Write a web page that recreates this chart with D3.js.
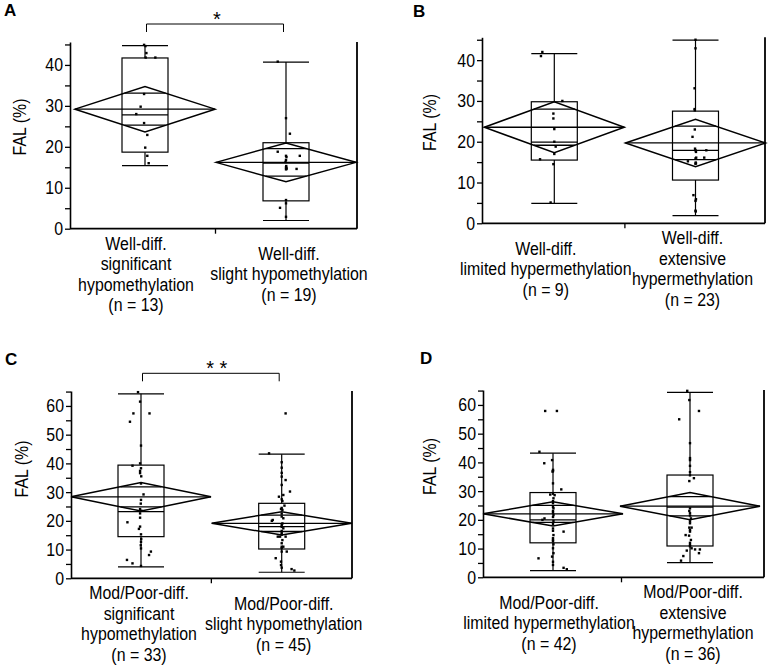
<!DOCTYPE html>
<html><head><meta charset="utf-8">
<script src="https://cdn.jsdelivr.net/npm/d3@7"></script>
<style>
body{margin:0;background:#fff}
svg{display:block}
text{font-family:"Liberation Sans",Arial,Helvetica,sans-serif;fill:#000}
</style>
</head><body>
<svg id="chart" width="771" height="667"></svg>
<script>
// ---------------- DATA ----------------
const panelIds = ["A", "B", "C", "D"];

const categoriesA = [["Well-diff.", "significant", "hypomethylation", "(n = 13)"], ["Well-diff.", "slight hypomethylation", "(n = 19)"]];
const categoriesB = [["Well-diff.", "limited hypermethylation", "(n = 9)"], ["Well-diff.", "extensive", "hypermethylation", "(n = 23)"]];
const categoriesC = [["Mod/Poor-diff.", "significant", "hypomethylation", "(n = 33)"], ["Mod/Poor-diff.", "slight hypomethylation", "(n = 45)"]];
const categoriesD = [["Mod/Poor-diff.", "limited hypermethylation", "(n = 42)"], ["Mod/Poor-diff.", "extensive", "hypermethylation", "(n = 36)"]];

const yLabel = "FAL (%)";
const yTicksAB = [0, 10, 20, 30, 40];
const yTicksCD = [0, 10, 20, 30, 40, 50, 60];
const yMaxAB = 45.6;
const yMaxCD = 65.2;

// box stats: [whisker low, Q1, median, Q3, whisker high]
const boxA = [[15.4, 18.7, 27.8, 41.7, 44.7], [2.0, 6.8, 16.0, 21.0, 40.7]];
const boxB = [[4.9, 15.5, 19.9, 29.8, 41.6], [1.9, 10.6, 17.9, 27.5, 44.9]];
const boxC = [[4.0, 14.5, 23.2, 39.4, 64.2], [2.1, 10.2, 18.0, 26.1, 43.2]];
const boxD = [[2.3, 12.0, 20.0, 29.5, 43.2], [5.1, 10.9, 24.4, 35.6, 64.4]];

// means and 95% CI half-widths (means diamonds)
const meanA = [29.2, 16.2], ciA = [5.55, 4.75];
const meanB = [23.55, 19.7], ciB = [6.25, 5.8];
const meanC = [28.35, 19.15], ciC = [4.95, 4.05];
const meanD = [22.1, 24.75], ciD = [4.2, 4.75];

// individual FAL values
const pointsA = [
  [44.9, 44.6, 42.9, 41.8, 41.8, 32.9, 29.8, 28.0, 25.8, 22.9, 19.8, 17.8, 16.0],
  [40.8, 27.0, 23.2, 18.8, 17.8, 17.8, 17.5, 16.8, 16.3, 15.3, 15.0, 14.8, 14.6, 14.5, 14.6, 7.0, 6.2, 5.1, 2.9]
];
const pointsB = [
  [42.0, 41.0, 30.0, 26.9, 25.7, 23.1, 20.0, 18.8, 17.0, 15.7, 14.5, 5.1],
  [45.0, 42.9, 33.1, 28.0, 27.7, 23.0, 21.2, 17.9, 17.9, 17.5, 16.1, 16.1, 15.9, 15.2, 14.7, 14.6, 14.9, 18.3, 6.9, 5.9, 5.5, 3.1, 2.9]
];
const pointsC = [
  [64.8, 61.5, 57.4, 57.4, 54.5, 46.2, 40.0, 39.2, 38.3, 37.4, 36.6, 35.5, 33.0, 29.2, 27.3, 26.0, 24.1, 23.5, 22.6, 21.1, 19.5, 18.0, 17.2, 15.3, 13.7, 12.7, 11.5, 10.4, 9.3, 8.1, 6.4, 5.2, 4.3],
  [57.4, 43.5, 40.4, 38.5, 36.7, 35.4, 34.2, 32.5, 30.2, 29.0, 28.4, 27.5, 26.9, 25.3, 24.5, 24.1, 23.8, 22.5, 21.5, 20.9, 20.3, 20.0, 19.1, 18.5, 17.9, 17.4, 16.5, 15.8, 15.2, 14.5, 14.5, 14.5, 13.3, 12.2, 11.0, 11.0, 10.5, 9.3, 9.3, 7.0, 5.8, 4.6, 3.7, 3.2, 2.7]
];
const pointsD = [
  [57.9, 57.9, 43.7, 40.8, 39.7, 37.4, 37.0, 36.8, 32.7, 30.6, 29.1, 28.8, 28.6, 27.5, 26.5, 25.8, 24.5, 24.0, 23.1, 22.5, 21.7, 21.0, 20.5, 20.0, 19.6, 18.5, 17.0, 16.2, 15.9, 14.7, 13.6, 13.0, 12.5, 11.5, 10.1, 8.4, 7.2, 6.6, 5.4, 4.3, 3.3, 2.8],
  [64.9, 61.7, 57.9, 55.0, 46.7, 41.5, 40.8, 38.8, 36.6, 35.5, 34.5, 33.5, 24.0, 23.1, 22.3, 21.5, 20.5, 19.5, 18.8, 17.3, 17.3, 16.5, 15.9, 14.7, 14.5, 13.0, 12.0, 11.2, 10.8, 10.1, 9.7, 9.7, 9.3, 8.4, 7.4, 5.8]
];
// horizontal jitter of each dot (fraction of box half-width)
const jitterA = [
  [-0.04, 0.02, 0.06, 0.03, 0.45, -0.04, -0.19, -0.38, -0.04, 0.1, 0.01, 0.1, 0.16],
  [-0.36, 0, 0.17, -0.36, 0, 0.6, 0.02, 0, -0.02, 0.01, 0, 0.02, 0.02, 0, 0.46, 0, 0, -0.26, 0]
];
const jitterB = [
  [-0.52, -0.58, 0.35, -0.04, -0.04, 0, 0, 0.06, 0, -0.62, -0.04, -0.16],
  [0, 0, -0.04, -0.04, -0.03, -0.03, -0.13, 0, 0.47, 0.02, 0.03, 0.38, 0, -0.33, 0.02, 0, 0.01, -0.02, -0.09, 0.02, 0, 0, 0.01]
];
const jitterC = [
  [-0.13, -0.04, -0.33, 0.37, -0.48, 0, -0.04, -0.37, 0, -0.04, -0.04, 0.01, 0, 0.11, 0, -0.01, -0.04, 0.02, -0.04, -0.04, -0.59, -0.04, -0.09, 0, 0.01, 0, -0.01, 0, 0.43, 0.35, -0.61, -0.37, 0],
  [0.17, -0.55, 0, 0, 0, 0, 0.17, 0, 0.36, 0.07, -0.12, 0, 0.03, 0.12, 0, -0.03, 0.03, 0, 0, 0.07, -0.39, -0.43, 0.03, 0, 0, 0.07, 0, 0, 0, -0.17, -0.07, 0.17, 0.03, 0, 0.07, 0, 0, 0, 0.22, -0.26, -0.03, -0.03, 0, 0.43, 0.55]
];
const jitterD = [
  [-0.34, 0.17, -0.59, -0.04, -0.38, 0, 0, -0.02, 0, 0.36, 0, -0.12, 0.07, 0.02, 0, 0, 0, 0.02, 0, 0, 0.02, 0, -0.37, -0.46, 0.02, 0, 0, 0, 0.46, 0.02, 0, 0, 0, 0.02, 0, 0.02, -0.04, -0.63, 0, 0, 0.46, 0.6],
  [-0.12, -0.03, 0.39, -0.47, 0, 0, 0, 0, 0, 0, 0.17, -0.03, 0, -0.03, 0, 0, 0.04, 0, 0, 0.07, -0.03, 0, 0, -0.19, -0.04, 0.04, 0, 0, 0, 0.07, 0.22, 0.43, -0.14, 0.39, -0.29, -0.39]
];
const significanceA = "*";
const significanceC = "* *";

// ---------------- LAYOUT ----------------
const panels = [
  { id: panelIds[0], cats: categoriesA, box: boxA, mean: meanA, ci: ciA, pts: pointsA, jit: jitterA, ticks: yTicksAB, yMax: yMaxAB, sig: significanceA,
    x0: 70, x1: 357, yTop: 42, yBot: 228.7, centers: [145, 286], labelDx: [-9, 3], title: [4, 16], ylab: [20, 127], bracketY: 24, sigDx: 2 },
  { id: panelIds[1], cats: categoriesB, box: boxB, mean: meanB, ci: ciB, pts: pointsB, jit: jitterB, ticks: yTicksAB, yMax: yMaxAB, sig: null,
    x0: 482, x1: 765, yTop: 37.3, yBot: 223.3, centers: [554.3, 695.5], labelDx: [-8.5, -3], title: [413, 17], ylab: [430, 122.5] },
  { id: panelIds[2], cats: categoriesC, box: boxC, mean: meanC, ci: ciC, pts: pointsC, jit: jitterC, ticks: yTicksCD, yMax: yMaxCD, sig: significanceC,
    x0: 71, x1: 352, yTop: 391, yBot: 578.3, centers: [141, 281.7], labelDx: [-2, 2], title: [5, 365], ylab: [21.7, 469], bracketY: 373.3, sigDx: 6 },
  { id: panelIds[3], cats: categoriesD, box: boxD, mean: meanD, ci: ciD, pts: pointsD, jit: jitterD, ticks: yTicksCD, yMax: yMaxCD, sig: null,
    x0: 483, x1: 764, yTop: 390, yBot: 577.3, centers: [553, 690], labelDx: [-4, 3], title: [420, 364], ylab: [430, 466.5] }
];

const svg = d3.select("#chart");
const BOX_HALF = 23, DIAMOND_HALF = 70, LINE_H = 20.5, FS = 18.5, SX = 0.86;

panels.forEach(p => {
  const g = svg.append("g");
  const y = d3.scaleLinear().domain([0, p.yMax]).range([p.yBot, p.yTop]);
  const x = d3.scalePoint().domain([0, 1]).range(p.centers);

  // panel letter
  g.append("text").attr("x", p.title[0]).attr("y", p.title[1])
    .attr("font-size", 17).attr("font-weight", "bold").text(p.id);

  // y axis: minor + major ticks
  const minor = d3.range(5, p.yMax, 10);
  const axMinor = g.append("g").attr("transform", `translate(${p.x0},0)`)
    .call(d3.axisLeft(y).tickValues(minor).tickSize(5).tickSizeOuter(0).tickFormat(""));
  axMinor.select(".domain").remove();
  const ax = g.append("g").attr("transform", `translate(${p.x0},0)`)
    .call(d3.axisLeft(y).tickValues(p.ticks).tickSize(5).tickSizeOuter(0).tickPadding(2));
  ax.selectAll("text").attr("font-size", FS).attr("font-family", null)
    .attr("x", 0).attr("transform", `translate(-7,0) scale(${SX},1)`);
  g.selectAll(".tick line").attr("stroke", "#000").attr("stroke-width", 1.3);
  ax.select(".domain").attr("stroke", "#000").attr("stroke-width", 1.6);

  // x axis line, middle tick, right frame line
  g.append("line").attr("x1", p.x0).attr("x2", p.x1).attr("y1", p.yBot).attr("y2", p.yBot)
    .attr("stroke", "#000").attr("stroke-width", 1.8);
  const mid = (x(0) + x(1)) / 2;
  g.append("line").attr("x1", mid).attr("x2", mid).attr("y1", p.yBot).attr("y2", p.yBot + 5)
    .attr("stroke", "#000").attr("stroke-width", 1.3);
  g.append("line").attr("x1", p.x1).attr("x2", p.x1).attr("y1", y(p.yMax)).attr("y2", p.yBot)
    .attr("stroke", "#000").attr("stroke-width", 1.8);

  // y label
  g.append("text").attr("transform", `translate(${p.ylab[0]},${p.ylab[1]}) rotate(-90) scale(${SX},1)`)
    .attr("text-anchor", "middle").attr("dominant-baseline", "central")
    .attr("font-size", FS).text(yLabel);

  [0, 1].forEach(i => {
    const cx = x(i);
    const [lo, q1, med, q3, hi] = p.box[i];
    const bg = g.append("g").attr("fill", "none").attr("stroke", "#000").attr("stroke-width", 1.2);
    bg.append("line").attr("x1", cx).attr("x2", cx).attr("y1", y(hi)).attr("y2", y(q3));
    bg.append("line").attr("x1", cx).attr("x2", cx).attr("y1", y(q1)).attr("y2", y(lo));
    bg.append("line").attr("x1", cx - BOX_HALF).attr("x2", cx + BOX_HALF).attr("y1", y(hi)).attr("y2", y(hi));
    bg.append("line").attr("x1", cx - BOX_HALF).attr("x2", cx + BOX_HALF).attr("y1", y(lo)).attr("y2", y(lo));
    bg.append("rect").attr("x", cx - BOX_HALF).attr("y", y(q3)).attr("width", 2 * BOX_HALF).attr("height", y(q1) - y(q3));
    bg.append("line").attr("x1", cx - BOX_HALF).attr("x2", cx + BOX_HALF).attr("y1", y(med)).attr("y2", y(med));

    // means diamond
    const m = p.mean[i], c = p.ci[i];
    const dg = g.append("g").attr("fill", "none").attr("stroke", "#000").attr("stroke-width", 1.5);
    dg.append("path").attr("d", d3.line()([
      [cx - DIAMOND_HALF, y(m)], [cx, y(m + c)], [cx + DIAMOND_HALF, y(m)], [cx, y(m - c)]
    ]) + "Z");
    dg.append("line").attr("x1", cx - DIAMOND_HALF).attr("x2", cx + DIAMOND_HALF).attr("y1", y(m)).attr("y2", y(m)).attr("stroke-width", 1.3);
    const ov = c / Math.SQRT2, ovHalf = DIAMOND_HALF * (1 - 1 / Math.SQRT2);
    [m + ov, m - ov].forEach(v => {
      dg.append("line").attr("x1", cx - ovHalf).attr("x2", cx + ovHalf).attr("y1", y(v)).attr("y2", y(v)).attr("stroke-width", 1.3);
    });

    // points
    g.append("g").selectAll("rect").data(p.pts[i]).join("rect")
      .attr("x", (d, k) => cx + p.jit[i][k] * BOX_HALF - 1.2)
      .attr("y", d => y(d) - 1.2)
      .attr("width", 2.4).attr("height", 2.4).attr("fill", "#000");

    // category labels (slightly condensed, as in the reference)
    const lines = p.cats[i];
    const firstBase = p.yBot + 21 + (4 - lines.length) * LINE_H / 2;
    const t = g.append("text").attr("text-anchor", "middle").attr("font-size", FS)
      .attr("transform", `translate(${cx + p.labelDx[i]},0) scale(${SX},1)`);
    lines.forEach((ln, k) => {
      t.append("tspan").attr("x", 0).attr("y", firstBase + k * LINE_H).text(ln);
    });
  });

  // significance bracket
  if (p.sig) {
    const bx0 = x(0) + 1.5, bx1 = x(1) - 2.5, by = p.bracketY;
    g.append("path").attr("fill", "none").attr("stroke", "#000").attr("stroke-width", 1)
      .attr("d", `M${bx0},${by + 8}V${by}H${bx1}V${by + 8}`);
    g.append("text").attr("x", (bx0 + bx1) / 2 + p.sigDx).attr("y", by + 2)
      .attr("text-anchor", "middle").attr("font-size", 20).text(p.sig);
  }
});
</script>
</body></html>
